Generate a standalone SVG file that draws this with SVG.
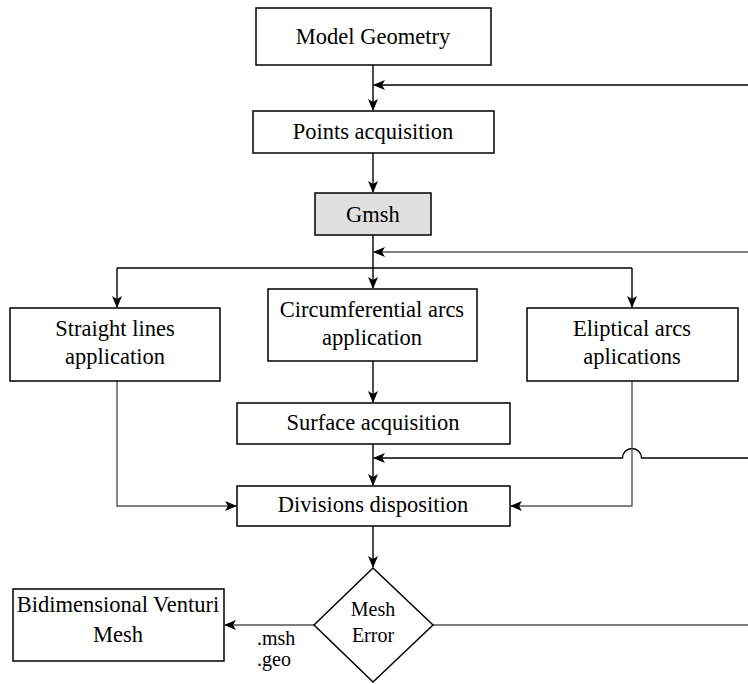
<svg xmlns="http://www.w3.org/2000/svg" width="748" height="684" viewBox="0 0 748 684">
<defs>
<marker id="ah" markerWidth="12" markerHeight="10" refX="11" refY="5" orient="auto" markerUnits="userSpaceOnUse">
<path d="M0,0 L12,5 L0,10 L3,5 Z" fill="#000"/>
</marker>
<style>
.box{fill:#fff;stroke:#000;stroke-width:1.5}
.gbox{fill:#e0e0e0;stroke:#000;stroke-width:1.5}
text{font-family:'Liberation Serif','Times New Roman',Times,serif;fill:#000}
.t{font-size:22.5px;text-anchor:middle}
.s{font-size:20px;text-anchor:middle}
.l{font-size:20px;text-anchor:start}
.c{fill:none;stroke:#000;stroke-width:1.4}
.g{fill:none;stroke:#555;stroke-width:1.4}
</style>
</defs>
<rect width="748" height="684" fill="#fff"/>
<g id="connectors">
<line class="c" x1="373" y1="65" x2="373" y2="110" marker-end="url(#ah)"/>
<line class="c" x1="748" y1="85" x2="374" y2="85" marker-end="url(#ah)"/>
<line class="c" x1="373" y1="153" x2="373" y2="192" marker-end="url(#ah)"/>
<line class="c" x1="373" y1="235" x2="373" y2="288" marker-end="url(#ah)"/>
<line class="g" x1="748" y1="252" x2="374" y2="252" marker-end="url(#ah)"/>
<line class="c" x1="117" y1="268" x2="632" y2="268"/>
<line class="c" x1="117" y1="268" x2="117" y2="307" marker-end="url(#ah)"/>
<line class="c" x1="632" y1="268" x2="632" y2="307" marker-end="url(#ah)"/>
<line class="c" x1="373" y1="361" x2="373" y2="402" marker-end="url(#ah)"/>
<line class="c" x1="373" y1="444" x2="373" y2="485" marker-end="url(#ah)"/>
<path class="c" d="M748,458 L641.5,458 A9.5,9.5 0 0 0 622.5,458 L374,458" marker-end="url(#ah)"/>
<polyline class="g" points="117,381 117,506 236,506" marker-end="url(#ah)"/>
<polyline class="g" points="632,381 632,506 511,506" marker-end="url(#ah)"/>
<line class="c" x1="373" y1="526" x2="373" y2="567" marker-end="url(#ah)"/>
<line class="g" x1="314" y1="625" x2="225" y2="625" marker-end="url(#ah)"/>
<line class="g" x1="433" y1="625" x2="748" y2="625"/>
<text class="l" x="257" y="645">.msh</text>
<text class="l" x="257" y="666">.geo</text>
</g>
<g id="model-geometry">
<rect class="box" x="256" y="8" width="235" height="57"/>
<text class="t" x="373" y="44">Model Geometry</text>
</g>
<g id="points-acquisition">
<rect class="box" x="253" y="111" width="241" height="42"/>
<text class="t" x="373" y="139">Points acquisition</text>
</g>
<g id="gmsh">
<rect class="gbox" x="315" y="193" width="116" height="42"/>
<text class="t" x="373" y="222">Gmsh</text>
</g>
<g id="straight-lines">
<rect class="box" x="10" y="308" width="210" height="73"/>
<text class="t" x="115" y="336">Straight lines</text>
<text class="t" x="115" y="364">application</text>
</g>
<g id="circumferential-arcs">
<rect class="box" x="268" y="289" width="209" height="72"/>
<text class="t" x="372" y="317">Circumferential arcs</text>
<text class="t" x="372" y="345">application</text>
</g>
<g id="eliptical-arcs">
<rect class="box" x="527" y="308" width="211" height="73"/>
<text class="t" x="632" y="336">Eliptical arcs</text>
<text class="t" x="632" y="364">aplications</text>
</g>
<g id="surface-acquisition">
<rect class="box" x="237" y="403" width="273" height="41"/>
<text class="t" x="373" y="430">Surface acquisition</text>
</g>
<g id="divisions-disposition">
<rect class="box" x="237" y="486" width="273" height="40"/>
<text class="t" x="373" y="512">Divisions disposition</text>
</g>
<g id="mesh-error">
<polygon class="box" points="373,568 433,625 373,682 314,625"/>
<text class="s" x="373" y="616">Mesh</text>
<text class="s" x="373" y="642">Error</text>
</g>
<g id="bidimensional-venturi-mesh">
<rect class="box" x="13" y="589" width="211" height="72"/>
<text class="t" x="118" y="612">Bidimensional Venturi</text>
<text class="t" x="118" y="642">Mesh</text>
</g>
</svg>
